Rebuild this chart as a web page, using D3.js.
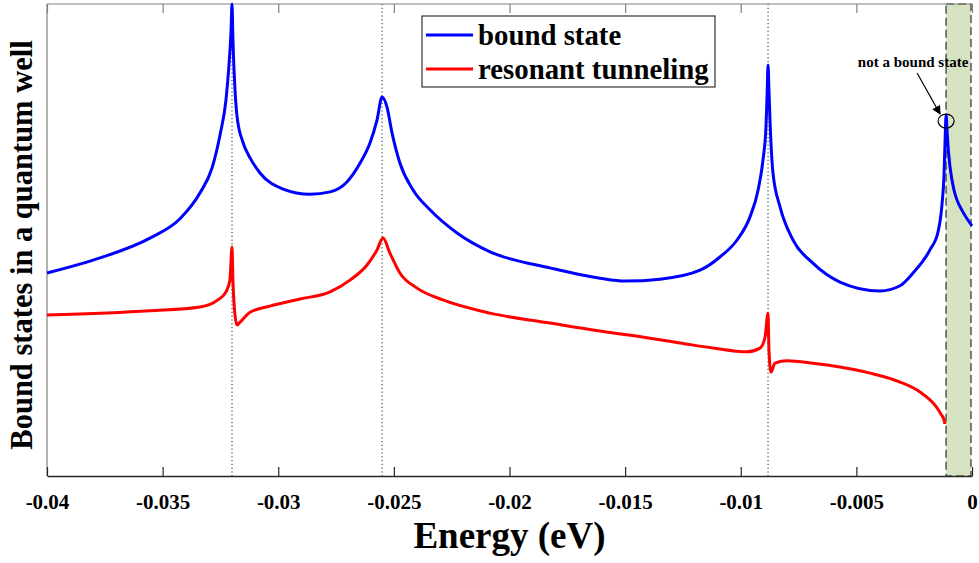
<!DOCTYPE html>
<html>
<head>
<meta charset="utf-8">
<script src="https://cdn.jsdelivr.net/npm/d3@7"></script>
<style>
  html, body { margin: 0; padding: 0; background: #ffffff; }
  svg { display: block; }
  text { font-family: "Liberation Serif", "Times New Roman", serif; font-weight: bold; fill: #000; }
</style>
</head>
<body>
<svg id="chart" width="979" height="563"></svg>
<script>
// ---------------- data ----------------
const xTicks = [-0.04, -0.035, -0.03, -0.025, -0.02, -0.015, -0.01, -0.005, 0];
const xTickLabels = ["-0.04", "-0.035", "-0.03", "-0.025", "-0.02", "-0.015", "-0.01", "-0.005", "0"];
const resonanceEnergies = [-0.0320, -0.02551, -0.00882];
const shadedRegion = [-0.00112, 0];
const annotationPoint = [-0.00112, 0.752];

const boundEnergy = [-0.04, -0.03771, -0.03555, -0.03425, -0.03338, -0.03286, -0.03252, -0.03226, -0.03213, -0.03204, -0.03200,
  -0.03196, -0.03187, -0.03178, -0.03152, -0.03122, -0.03079, -0.02979, -0.02863, -0.02776, -0.02703, -0.02646, -0.02603, -0.02573,
  -0.02551, -0.02530, -0.02508, -0.02474, -0.02417, -0.02344, -0.02227, -0.02084, -0.01825, -0.01609, -0.01501, -0.01349, -0.01176,
  -0.01090, -0.01016, -0.00960, -0.00925, -0.00904, -0.00891, -0.00886, -0.00882, -0.00878, -0.00874, -0.00861, -0.00830, -0.00774,
  -0.00688, -0.00571, -0.00398, -0.00311, -0.00255, -0.00182, -0.00147, -0.00130, -0.00121, -0.00117, -0.00112, -0.00108, -0.00104,
  -0.00095, -0.00078, -0.00065, -0.00039, 0];
const boundValue = [0.430, 0.462, 0.504, 0.545, 0.600, 0.653, 0.722, 0.797, 0.871, 0.945, 1.000,
  0.924, 0.818, 0.761, 0.706, 0.674, 0.642, 0.608, 0.597, 0.602, 0.623, 0.663, 0.706, 0.754,
  0.803, 0.782, 0.727, 0.663, 0.606, 0.564, 0.515, 0.475, 0.441, 0.419, 0.413, 0.417, 0.436,
  0.464, 0.500, 0.549, 0.606, 0.669, 0.739, 0.807, 0.871, 0.818, 0.761, 0.644, 0.570, 0.500,
  0.451, 0.411, 0.392, 0.403, 0.430, 0.479, 0.517, 0.574, 0.638, 0.701, 0.765, 0.733, 0.701,
  0.655, 0.606, 0.585, 0.559, 0.530];

const tunnelEnergy = [-0.04, -0.03555, -0.03338, -0.03261, -0.03226, -0.03209, -0.03200, -0.03196, -0.03187, -0.03178, -0.03165,
  -0.03122, -0.03036, -0.02906, -0.02776, -0.02690, -0.02616, -0.02573, -0.02547, -0.02517, -0.02474, -0.02400, -0.02288, -0.02084,
  -0.01825, -0.01609, -0.01392, -0.01263, -0.01120, -0.00973, -0.00917, -0.00895, -0.00882, -0.00878, -0.00869, -0.00852, -0.00800,
  -0.00688, -0.00571, -0.00441, -0.00311, -0.00225, -0.00160, -0.00134, -0.00121, -0.00117];
const tunnelValue = [0.341, 0.350, 0.358, 0.373, 0.390, 0.415, 0.485, 0.415, 0.341, 0.320, 0.326,
  0.347, 0.360, 0.375, 0.390, 0.415, 0.447, 0.479, 0.504, 0.472, 0.430, 0.398, 0.373, 0.345,
  0.324, 0.307, 0.292, 0.282, 0.271, 0.263, 0.271, 0.294, 0.345, 0.267, 0.220, 0.239, 0.244,
  0.239, 0.231, 0.218, 0.199, 0.178, 0.150, 0.131, 0.119, 0.110];

const seriesNames = ["bound state", "resonant tunneling"];
const seriesColors = ["#0000ff", "#ff0000"];
const xTitle = "Energy (eV)";
const yTitle = "Bound states in a quantum well";
const annotationText = "not a bound state";

// ---------------- layout ----------------
const svg = d3.select("#chart");
const mLeft = 47, mRight = 972, mTop = 4, mBottom = 476;
const x = d3.scaleLinear().domain([-0.04, 0]).range([mLeft, mRight]);
const y = d3.scaleLinear().domain([0, 1]).range([mBottom, mTop]);

// shaded region
svg.append("rect")
  .attr("x", x(shadedRegion[0])).attr("y", y(1))
  .attr("width", x(shadedRegion[1]) - x(shadedRegion[0]) - 1)
  .attr("height", y(0) - y(1))
  .attr("fill", "#d5e3c1")
  .attr("stroke", "#5e5e5e").attr("stroke-width", 1.6)
  .attr("stroke-dasharray", "8,4");

// dotted vertical lines
svg.selectAll("line.res").data(resonanceEnergies).enter().append("line")
  .attr("class", "res")
  .attr("x1", d => x(d)).attr("x2", d => x(d))
  .attr("y1", y(1)).attr("y2", y(0))
  .attr("stroke", "#222").attr("stroke-width", 1)
  .attr("stroke-dasharray", "1.2,2.6");

// box lines (top & left)
svg.append("line").attr("x1", mLeft).attr("x2", mRight).attr("y1", mTop).attr("y2", mTop)
  .attr("stroke", "#808080").attr("stroke-width", 1.2);
svg.append("line").attr("x1", mLeft).attr("x2", mLeft).attr("y1", mTop).attr("y2", mBottom)
  .attr("stroke", "#808080").attr("stroke-width", 1.2);

// bottom axis
const xAxis = d3.axisBottom(x).tickValues(xTicks).tickFormat((d, i) => xTickLabels[i])
  .tickSizeInner(-9).tickSizeOuter(0).tickPadding(18);
const gx = svg.append("g").attr("transform", `translate(0,${mBottom})`).call(xAxis);
gx.select(".domain").attr("stroke", "#262626").attr("stroke-width", 1.3);
gx.selectAll(".tick line").attr("stroke", "#262626").attr("stroke-width", 1.2);
gx.selectAll(".tick text").style("font-family", "'Liberation Serif', serif")
  .style("font-weight", "bold").style("font-size", "21px").attr("fill", "#000");

// top mirrored ticks
const xTopAxis = d3.axisTop(x).tickValues(xTicks).tickFormat("").tickSizeInner(-9).tickSizeOuter(0);
const gt = svg.append("g").attr("transform", `translate(0,${mTop})`).call(xTopAxis);
gt.select(".domain").remove();
gt.selectAll(".tick line").attr("stroke", "#808080").attr("stroke-width", 1.2);

// curves
const line = d3.line().x(d => x(d[0])).y(d => y(d[1])).curve(d3.curveMonotoneX);
const boundData = boundEnergy.map((e, i) => [e, boundValue[i]]);
const tunnelData = tunnelEnergy.map((e, i) => [e, tunnelValue[i]]);
svg.append("path").datum(tunnelData).attr("d", line)
  .attr("fill", "none").attr("stroke", seriesColors[1]).attr("stroke-width", 3)
  .attr("stroke-linejoin", "round");
svg.append("path").datum(boundData).attr("d", line)
  .attr("fill", "none").attr("stroke", seriesColors[0]).attr("stroke-width", 3)
  .attr("stroke-linejoin", "round");

// annotation
const ax = x(annotationPoint[0]), ay = y(annotationPoint[1]);
svg.append("ellipse").attr("cx", ax).attr("cy", ay).attr("rx", 8).attr("ry", 7)
  .attr("fill", "none").attr("stroke", "#000").attr("stroke-width", 1.2);
svg.append("defs").append("marker").attr("id", "arrow")
  .attr("viewBox", "0 0 10 10").attr("refX", 9).attr("refY", 5)
  .attr("markerWidth", 9).attr("markerHeight", 9).attr("markerUnits", "userSpaceOnUse")
  .attr("orient", "auto")
  .append("path").attr("d", "M0,0 L10,5 L0,10 z").attr("fill", "#000");
svg.append("line").attr("x1", ax - 29).attr("y1", ay - 48).attr("x2", ax - 6).attr("y2", ay - 7)
  .attr("stroke", "#000").attr("stroke-width", 1.2).attr("marker-end", "url(#arrow)");
svg.append("text").attr("x", ax - 33).attr("y", ay - 54).attr("text-anchor", "middle")
  .style("font-size", "15px").text(annotationText);

// legend
const lg = svg.append("g");
lg.append("rect").attr("x", 422).attr("y", 16).attr("width", 293).attr("height", 71)
  .attr("fill", "#fff").attr("stroke", "#333").attr("stroke-width", 1.2);
seriesNames.forEach((name, i) => {
  const ly = 35 + i * 34;
  lg.append("line").attr("x1", 426).attr("x2", 473).attr("y1", ly).attr("y2", ly)
    .attr("stroke", seriesColors[i]).attr("stroke-width", 3);
  lg.append("text").attr("x", 478).attr("y", ly + 10).style("font-size", "28.8px").text(name);
});

// axis titles
svg.append("text").attr("x", (mLeft + mRight) / 2).attr("y", 548).attr("text-anchor", "middle")
  .style("font-size", "37px").text(xTitle);
svg.append("text").attr("transform", `translate(32,245) rotate(-90)`).attr("text-anchor", "middle")
  .style("font-size", "30.5px").text(yTitle);
</script>
</body>
</html>
